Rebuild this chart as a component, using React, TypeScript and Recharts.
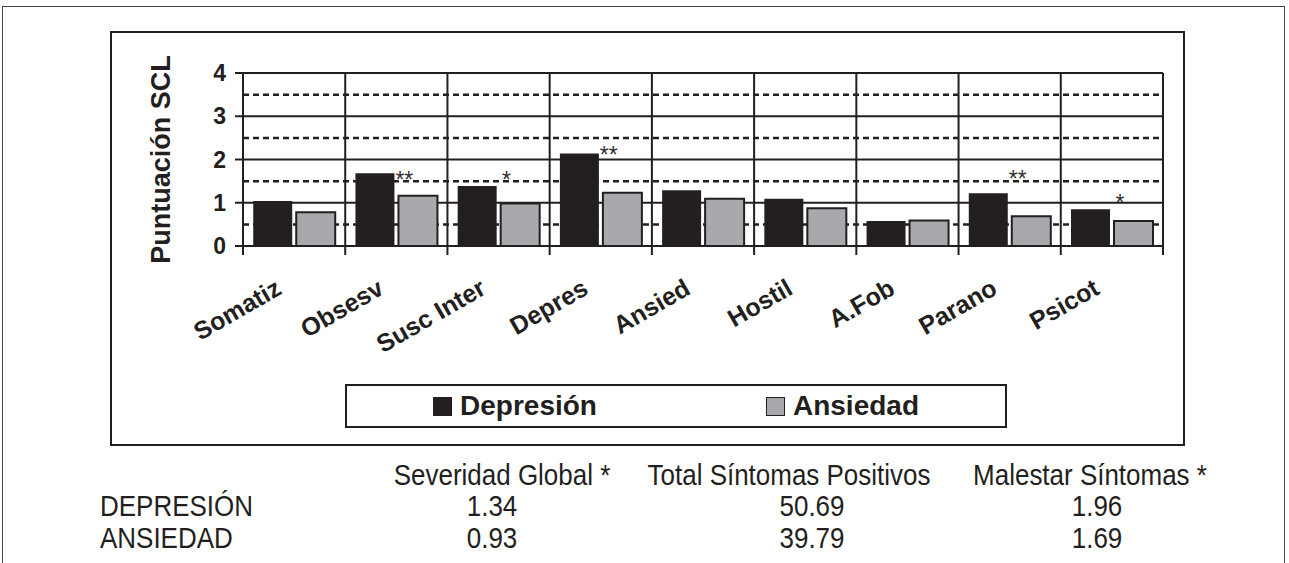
import React from 'react';
import { BarChart, Bar, XAxis, YAxis, CartesianGrid, ReferenceLine, ReferenceDot, Legend } from 'recharts';

const categories = ['Somatiz', 'Obsesv', 'Susc Inter', 'Depres', 'Ansied', 'Hostil', 'A.Fob', 'Parano', 'Psicot'];
const depresion = [1.04, 1.68, 1.39, 2.14, 1.29, 1.09, 0.58, 1.22, 0.85];
const ansiedad = [0.78, 1.16, 0.98, 1.23, 1.09, 0.87, 0.59, 0.69, 0.58];
const seriesNames = ['Depresión', 'Ansiedad'];
const yTicks = [0, 1, 2, 3, 4];
const halfTicks = [0.5, 1.5, 2.5, 3.5];
const sigMarks = ['', '**', '*', '**', '', '', '', '**', '*'];
const sigLevels = [0, 1.64, 1.64, 2.22, 0, 0, 0, 1.66, 1.11];

const tableHeaders = ['Severidad Global *', 'Total Síntomas Positivos', 'Malestar Síntomas *'];
const rowLabels = ['DEPRESIÓN', 'ANSIEDAD'];
const depresionSummary = ['1.34', '50.69', '1.96'];
const ansiedadSummary = ['0.93', '39.79', '1.69'];

const data = categories.map((name, i) => ({ name, dep: depresion[i], anx: ansiedad[i] }));

const FONT = '"Liberation Sans", Arial, Helvetica, sans-serif';
const INK = '#231f20';
const GRAY = '#a7a9ac';

const CatTick = (props: any) => {
  const { x, y, payload, width } = props;
  const half = typeof payload?.offset === 'number' && payload.offset > 0
    ? payload.offset
    : (width || 920) / categories.length / 2;
  const ax = x - 11;
  const ay = y + 47;
  const isLast = payload?.index === categories.length - 1 || payload?.value === categories[categories.length - 1];
  return (
    <g>
      <line x1={x - half} x2={x - half} y1={y} y2={y + 9} stroke={INK} strokeWidth={2} />
      {isLast ? <line x1={x + half} x2={x + half} y1={y} y2={y + 9} stroke={INK} strokeWidth={2} /> : null}
      <text x={ax} y={ay} transform={`rotate(-30 ${ax} ${ay})`} textAnchor="end"
        fontFamily={FONT} fontWeight={700} fontSize={25} fill={INK}>
        {payload.value}
      </text>
    </g>
  );
};

const verticalGen = (props: any) => {
  const { offset } = props || {};
  const n = categories.length;
  return Array.from({ length: n + 1 }, (_, i) => offset.left + (offset.width * i) / n);
};

const YTitle = (props: any) => {
  const { viewBox } = props;
  const cx = viewBox.x + viewBox.width / 2 - 16;
  const cy = viewBox.y + viewBox.height / 2;
  return (
    <text x={cx} y={cy} transform={`rotate(-90 ${cx} ${cy})`} textAnchor="middle" dominantBaseline="central"
      fontFamily={FONT} fontWeight={700} fontSize={27} fill={INK}>
      Puntuación SCL
    </text>
  );
};

const LegendBox = (props: any) => {
  const payload = [...(props.payload || [])].sort(
    (a: any, b: any) => seriesNames.indexOf(a.value) - seriesNames.indexOf(b.value)
  );
  return (
    <div style={{
      width: 658, height: 40, border: `2px solid ${INK}`, display: 'flex', alignItems: 'center',
      justifyContent: 'center', gap: 169, background: '#fff'
    }}>
      {payload.map((entry: any, i: number) => (
        <div key={i} style={{ display: 'flex', alignItems: 'center' }}>
          <span style={{
            display: 'inline-block', width: 17, height: 17, background: entry.color,
            border: `1.5px solid ${INK}`, marginRight: 8
          }} />
          <span style={{ fontFamily: FONT, fontWeight: 700, fontSize: 28, color: INK, lineHeight: '28px' }}>
            {entry.value}
          </span>
        </div>
      ))}
    </div>
  );
};

const TableText = ({ x, y, anchor, children }: any) => (
  <text transform={`translate(${x} ${y}) scale(0.866 1)`} x={0} y={0} textAnchor={anchor}
    fontFamily={FONT} fontSize={30} fill={INK}>
    {children}
  </text>
);

export default function App() {
  return (
    <div style={{ position: 'absolute', left: 0, top: 0, width: 1289, height: 563, background: '#fff', overflow: 'hidden' }}>
      <div style={{ position: 'absolute', left: 2, top: 6, width: 1281, height: 600, borderLeft: '1.5px solid #444', borderTop: '1.5px solid #444', borderRight: '1.5px solid #444' }} />
      <div style={{ position: 'absolute', left: 110, top: 31, width: 1071, height: 411, border: `2px solid ${INK}` }} />
      <div style={{ position: 'absolute', left: 0, top: 0 }}>
        <BarChart width={1289} height={450} data={data}
          margin={{ top: 73, right: 126, bottom: 114, left: 110 }}
          barCategoryGap="10%" barGap={4}>
          <CartesianGrid xAxisId="cat" yAxisId={0} stroke={INK} strokeWidth={2} horizontal vertical
            verticalCoordinatesGenerator={verticalGen} />
          {halfTicks.map((v) => (
            <ReferenceLine key={v} xAxisId="cat" yAxisId={0} y={v} stroke={INK} strokeWidth={2.5}
              strokeDasharray="6 4" zIndex={-60} />
          ))}
          <XAxis xAxisId="cat" dataKey="name" type="category" height={90}
            axisLine={{ stroke: INK, strokeWidth: 2 }}
            tickLine={false} tickSize={0} tickMargin={0} interval={0} tick={CatTick} />
          <YAxis yAxisId={0} domain={[0, 4]} ticks={yTicks} width={133} interval={0}
            tick={{ fontSize: 23, fontWeight: 700, fill: INK, fontFamily: FONT }}
            tickSize={8} tickMargin={9}
            tickLine={{ stroke: INK, strokeWidth: 2 }} axisLine={{ stroke: INK, strokeWidth: 2 }}
            label={{ content: YTitle }} />
          <Bar xAxisId="cat" yAxisId={0} dataKey="dep" name={seriesNames[0]} fill={INK} isAnimationActive={false} />
          <Bar xAxisId="cat" yAxisId={0} dataKey="anx" name={seriesNames[1]} fill={GRAY} stroke={INK}
            strokeWidth={2} isAnimationActive={false} />
          {categories.map((c, i) => sigMarks[i] ? (
            <ReferenceDot key={c} xAxisId="cat" yAxisId={0} x={c} y={sigLevels[i]} r={0} ifOverflow="visible"
              shape={(p: any) => (
                <text x={p.cx + 8} y={p.cy + 13} textAnchor="middle" fontFamily={FONT} fontSize={23} fill="#333">
                  {sigMarks[i]}
                </text>
              )} />
          ) : null)}
          <Legend layout="horizontal" verticalAlign="middle" align="center" content={LegendBox}
            wrapperStyle={{ left: 345, top: 384, width: 662, height: 44 }} />
        </BarChart>
      </div>
      <svg width={1289} height={563} style={{ position: 'absolute', left: 0, top: 0, pointerEvents: 'none' }}>
        {tableHeaders.map((h, i) => (
          <TableText key={h} x={[502, 789, 1090][i]} y={485} anchor="middle">{h}</TableText>
        ))}
        {rowLabels.map((r, j) => (
          <TableText key={r} x={100} y={[516, 548][j]} anchor="start">{r}</TableText>
        ))}
        {depresionSummary.map((v, i) => (
          <TableText key={'d' + i} x={[492, 812, 1097][i]} y={516} anchor="middle">{v}</TableText>
        ))}
        {ansiedadSummary.map((v, i) => (
          <TableText key={'a' + i} x={[492, 812, 1097][i]} y={548} anchor="middle">{v}</TableText>
        ))}
      </svg>
    </div>
  );
}
